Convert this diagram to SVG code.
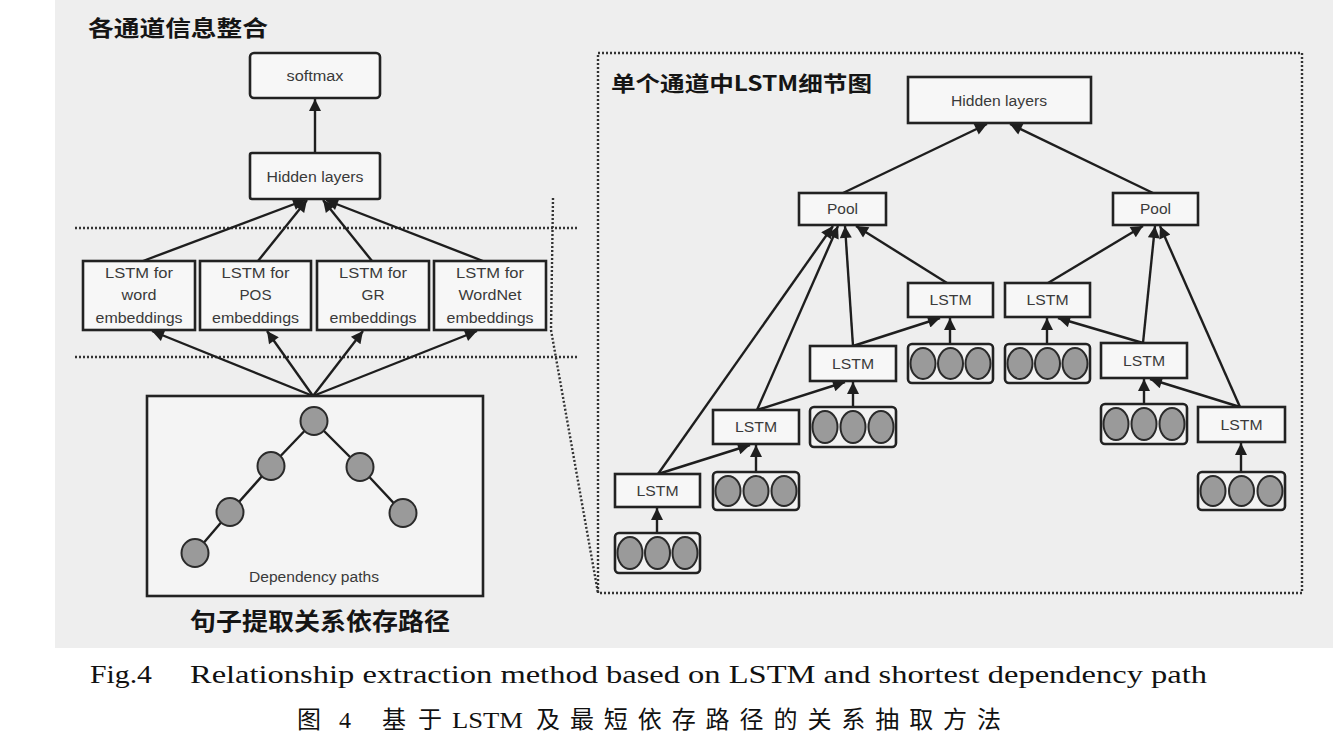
<svg xmlns="http://www.w3.org/2000/svg" width="1333" height="750" viewBox="0 0 1333 750">
<defs>
<marker id="ah" viewBox="0 0 10 10" refX="10" refY="5" markerWidth="14" markerHeight="12" markerUnits="userSpaceOnUse" orient="auto"><path d="M0,0 L10,5 L0,10 z" fill="#1e1e1e"/></marker>
<style>
.box{fill:#f7f7f7;stroke:#222;stroke-width:2.6}
.cbox{fill:#f2f2f2;stroke:#222;stroke-width:2.6}
.dot{fill:#9a9a9a;stroke:#2a2a2a;stroke-width:2}
.lbl{font-family:"Liberation Sans",Arial,sans-serif;font-size:14px;fill:#3a3a3a;text-anchor:middle}
.ttl{font-family:"Noto Sans CJK SC","Liberation Sans",sans-serif;font-weight:bold;fill:#151515}
.arr{stroke:#1e1e1e;stroke-width:2.4;fill:none;marker-end:url(#ah)}
.ln{stroke:#1e1e1e;stroke-width:2.4;fill:none}
.dash{stroke:#333;stroke-width:2.4;fill:none;stroke-dasharray:2 2}
.cap{font-family:"Liberation Serif","Times New Roman",serif;font-size:26px;fill:#111}
.capc{font-family:"Liberation Serif","Noto Sans CJK SC",serif;font-size:24px;fill:#111}
</style>
</defs>
<rect x="55" y="0" width="1278" height="648" fill="#eeeeee"/>

<!-- titles -->
<text class="ttl" x="88" y="36" font-size="22" textLength="180" lengthAdjust="spacingAndGlyphs">各通道信息整合</text>
<text class="ttl" x="611" y="91" font-size="21" textLength="261" lengthAdjust="spacingAndGlyphs">单个通道中LSTM细节图</text>
<text class="ttl" x="190" y="630" font-size="24" textLength="260" lengthAdjust="spacingAndGlyphs">句子提取关系依存路径</text>

<!-- dotted guides -->
<g id="guides">
<line class="dash" x1="75" y1="228" x2="578" y2="228"/>
<line class="dash" x1="75" y1="357" x2="578" y2="357"/>
<polyline class="dash" points="553,198 551,330 598,593"/>
<rect class="dash" x="598" y="53" width="704" height="540"/>
</g>

<!-- connectors -->
<g id="connectors">
<line class="arr" x1="315" y1="153" x2="315" y2="99"/>
<line class="arr" x1="143" y1="261" x2="305" y2="200"/>
<line class="arr" x1="258" y1="261" x2="307" y2="200"/>
<line class="arr" x1="372" y1="261" x2="323" y2="200"/>
<line class="arr" x1="483" y1="261" x2="326" y2="200"/>
<line class="arr" x1="313" y1="396" x2="152" y2="331"/>
<line class="arr" x1="313" y1="396" x2="267" y2="331"/>
<line class="arr" x1="313" y1="396" x2="363" y2="331"/>
<line class="arr" x1="313" y1="396" x2="477" y2="331"/>
<!-- right panel -->
<line class="arr" x1="843" y1="193" x2="987" y2="124"/>
<line class="arr" x1="1153" y1="193" x2="1010" y2="124"/>
<line class="arr" x1="658" y1="474" x2="833" y2="226"/>
<line class="arr" x1="757" y1="410" x2="838" y2="226"/>
<line class="arr" x1="853" y1="346" x2="845" y2="226"/>
<line class="arr" x1="947" y1="283" x2="856" y2="226"/>
<line class="arr" x1="1048" y1="283" x2="1143" y2="226"/>
<line class="arr" x1="1143" y1="343" x2="1155" y2="226"/>
<line class="arr" x1="1240" y1="407" x2="1160" y2="226"/>
<line class="arr" x1="658" y1="474" x2="750" y2="445"/>
<line class="arr" x1="757" y1="410" x2="845" y2="382"/>
<line class="arr" x1="853" y1="346" x2="940" y2="318"/>
<line class="arr" x1="1240" y1="407" x2="1150" y2="379"/>
<line class="arr" x1="1143" y1="343" x2="1058" y2="318"/>
<line class="arr" x1="657" y1="533" x2="657" y2="508"/>
<line class="arr" x1="756" y1="472" x2="756" y2="445"/>
<line class="arr" x1="853" y1="407" x2="853" y2="382"/>
<line class="arr" x1="950" y1="344" x2="950" y2="318"/>
<line class="arr" x1="1047" y1="344" x2="1047" y2="318"/>
<line class="arr" x1="1144" y1="404" x2="1144" y2="379"/>
<line class="arr" x1="1241" y1="472" x2="1241" y2="443"/>
</g>

<!-- left panel nodes -->
<g id="softmax"><rect class="box" x="250" y="53" width="130" height="45" rx="4"/><text class="lbl" x="315" y="81" textLength="57" lengthAdjust="spacingAndGlyphs">softmax</text></g>
<g id="hidden-left"><rect class="box" x="250" y="153" width="130" height="46" rx="2"/><text class="lbl" x="315" y="182" textLength="97" lengthAdjust="spacingAndGlyphs">Hidden layers</text></g>
<g id="lstm-word"><rect class="box" x="83" y="261" width="112" height="69"/>
<text class="lbl" x="139" y="278" textLength="68" lengthAdjust="spacingAndGlyphs">LSTM for</text>
<text class="lbl" x="139" y="300" textLength="35" lengthAdjust="spacingAndGlyphs">word</text>
<text class="lbl" x="139" y="323" textLength="87" lengthAdjust="spacingAndGlyphs">embeddings</text></g>
<g id="lstm-pos"><rect class="box" x="200" y="261" width="111" height="69"/>
<text class="lbl" x="255.5" y="278" textLength="68" lengthAdjust="spacingAndGlyphs">LSTM for</text>
<text class="lbl" x="255.5" y="300" textLength="32" lengthAdjust="spacingAndGlyphs">POS</text>
<text class="lbl" x="255.5" y="323" textLength="87" lengthAdjust="spacingAndGlyphs">embeddings</text></g>
<g id="lstm-gr"><rect class="box" x="317" y="261" width="112" height="69"/>
<text class="lbl" x="373" y="278" textLength="68" lengthAdjust="spacingAndGlyphs">LSTM for</text>
<text class="lbl" x="373" y="300" textLength="23" lengthAdjust="spacingAndGlyphs">GR</text>
<text class="lbl" x="373" y="323" textLength="87" lengthAdjust="spacingAndGlyphs">embeddings</text></g>
<g id="lstm-wordnet"><rect class="box" x="434" y="261" width="112" height="69"/>
<text class="lbl" x="490" y="278" textLength="68" lengthAdjust="spacingAndGlyphs">LSTM for</text>
<text class="lbl" x="490" y="300" textLength="63" lengthAdjust="spacingAndGlyphs">WordNet</text>
<text class="lbl" x="490" y="323" textLength="87" lengthAdjust="spacingAndGlyphs">embeddings</text></g>
<g id="dependency">
<rect x="147" y="396" width="336" height="200" fill="#f4f4f4" stroke="#222" stroke-width="2.6"/>
<line class="ln" x1="314" y1="421" x2="271" y2="466"/>
<line class="ln" x1="271" y1="466" x2="230" y2="512"/>
<line class="ln" x1="230" y1="512" x2="195" y2="553"/>
<line class="ln" x1="314" y1="421" x2="360" y2="467"/>
<line class="ln" x1="360" y1="467" x2="403" y2="513"/>
<ellipse class="dot" cx="314" cy="421" rx="13.5" ry="14"/>
<ellipse class="dot" cx="271" cy="466" rx="13.5" ry="14"/>
<ellipse class="dot" cx="360" cy="467" rx="13.5" ry="14"/>
<ellipse class="dot" cx="230" cy="512" rx="13.5" ry="14"/>
<ellipse class="dot" cx="403" cy="513" rx="13.5" ry="14"/>
<ellipse class="dot" cx="195" cy="553" rx="13.5" ry="14"/>
<text class="lbl" x="314" y="582" font-size="13" textLength="130" lengthAdjust="spacingAndGlyphs">Dependency paths</text>
</g>

<!-- right panel nodes -->
<g id="hidden-right"><rect class="box" x="908" y="77" width="183" height="46"/><text class="lbl" x="999" y="106" textLength="96" lengthAdjust="spacingAndGlyphs">Hidden layers</text></g>
<g id="pool-left"><rect class="box" x="799" y="193" width="87" height="32"/><text class="lbl" x="842.5" y="214" textLength="31" lengthAdjust="spacingAndGlyphs">Pool</text></g>
<g id="pool-right"><rect class="box" x="1113" y="193" width="85" height="32"/><text class="lbl" x="1155.5" y="214" textLength="31" lengthAdjust="spacingAndGlyphs">Pool</text></g>

<g id="lstm-r1l"><rect class="box" x="908" y="283" width="85" height="34"/><text class="lbl" x="950.5" y="305" textLength="42" lengthAdjust="spacingAndGlyphs">LSTM</text></g>
<g id="lstm-r1r"><rect class="box" x="1005" y="283" width="85" height="34"/><text class="lbl" x="1047.5" y="305" textLength="42" lengthAdjust="spacingAndGlyphs">LSTM</text></g>
<g id="lstm-r2l"><rect class="box" x="810" y="346" width="86" height="35"/><text class="lbl" x="853" y="369" textLength="42" lengthAdjust="spacingAndGlyphs">LSTM</text></g>
<g id="lstm-r2r"><rect class="box" x="1101" y="343" width="86" height="35"/><text class="lbl" x="1144" y="366" textLength="42" lengthAdjust="spacingAndGlyphs">LSTM</text></g>
<g id="lstm-r3l"><rect class="box" x="713" y="410" width="86" height="34"/><text class="lbl" x="756" y="432" textLength="42" lengthAdjust="spacingAndGlyphs">LSTM</text></g>
<g id="lstm-r3r"><rect class="box" x="1198" y="407" width="87" height="35"/><text class="lbl" x="1241.5" y="430" textLength="42" lengthAdjust="spacingAndGlyphs">LSTM</text></g>
<g id="lstm-r4"><rect class="box" x="615" y="474" width="85" height="33"/><text class="lbl" x="657.5" y="496" textLength="42" lengthAdjust="spacingAndGlyphs">LSTM</text></g>

<g id="emb-r1l"><rect class="cbox" x="908" y="344" width="85" height="39" rx="4"/><ellipse class="dot" cx="923" cy="363.5" rx="12.5" ry="15.5"/><ellipse class="dot" cx="950.5" cy="363.5" rx="12.5" ry="15.5"/><ellipse class="dot" cx="978" cy="363.5" rx="12.5" ry="15.5"/></g>
<g id="emb-r1r"><rect class="cbox" x="1005" y="344" width="85" height="39" rx="4"/><ellipse class="dot" cx="1020" cy="363.5" rx="12.5" ry="15.5"/><ellipse class="dot" cx="1047.5" cy="363.5" rx="12.5" ry="15.5"/><ellipse class="dot" cx="1075" cy="363.5" rx="12.5" ry="15.5"/></g>
<g id="emb-r2l"><rect class="cbox" x="810" y="407" width="86" height="40" rx="4"/><ellipse class="dot" cx="825" cy="427" rx="12.5" ry="16"/><ellipse class="dot" cx="853" cy="427" rx="12.5" ry="16"/><ellipse class="dot" cx="881" cy="427" rx="12.5" ry="16"/></g>
<g id="emb-r2r"><rect class="cbox" x="1101" y="404" width="86" height="40" rx="4"/><ellipse class="dot" cx="1116" cy="424" rx="12.5" ry="16"/><ellipse class="dot" cx="1144" cy="424" rx="12.5" ry="16"/><ellipse class="dot" cx="1172" cy="424" rx="12.5" ry="16"/></g>
<g id="emb-r3l"><rect class="cbox" x="713" y="472" width="86" height="38" rx="4"/><ellipse class="dot" cx="728" cy="491" rx="12.5" ry="15"/><ellipse class="dot" cx="756" cy="491" rx="12.5" ry="15"/><ellipse class="dot" cx="784" cy="491" rx="12.5" ry="15"/></g>
<g id="emb-r3r"><rect class="cbox" x="1198" y="472" width="87" height="38" rx="4"/><ellipse class="dot" cx="1213" cy="491" rx="12.5" ry="15"/><ellipse class="dot" cx="1241.5" cy="491" rx="12.5" ry="15"/><ellipse class="dot" cx="1270" cy="491" rx="12.5" ry="15"/></g>
<g id="emb-r4"><rect class="cbox" x="615" y="533" width="85" height="40" rx="4"/><ellipse class="dot" cx="630" cy="553" rx="12.5" ry="16"/><ellipse class="dot" cx="657.5" cy="553" rx="12.5" ry="16"/><ellipse class="dot" cx="685" cy="553" rx="12.5" ry="16"/></g>

<!-- captions -->
<text class="cap" x="90" y="683" textLength="62" lengthAdjust="spacingAndGlyphs">Fig.4</text>
<text class="cap" x="190" y="683" textLength="1017" lengthAdjust="spacingAndGlyphs">Relationship extraction method based on LSTM and shortest dependency path</text>
<text class="capc" x="297" y="728">图</text>
<text class="capc" x="339" y="728">4</text>
<text class="capc" x="382" y="728" textLength="60" lengthAdjust="spacing">基于</text>
<text class="capc" x="452" y="728" textLength="71" lengthAdjust="spacingAndGlyphs">LSTM</text>
<text class="capc" x="536" y="728" textLength="465" lengthAdjust="spacing">及最短依存路径的关系抽取方法</text>
</svg>
